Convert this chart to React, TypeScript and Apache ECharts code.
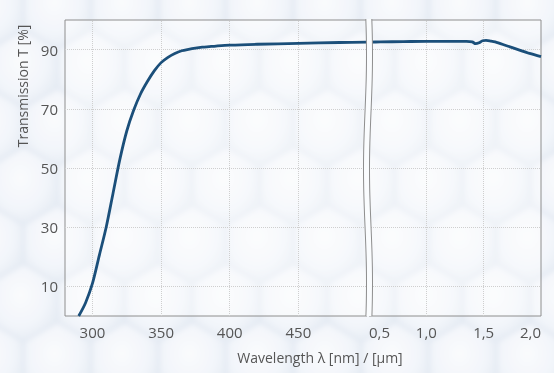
import React, { useEffect, useRef } from 'react';
import * as echarts from 'echarts';

// Left panel: wavelength in nm
const wlNm = [290, 295, 300, 305, 310, 315, 320, 325, 330, 335, 340, 345, 350, 355, 360, 365, 370, 375, 380, 385, 390, 400, 420, 450, 480, 500];
const tNm = [0, 4.5, 11, 20.5, 30, 41.5, 53, 62.5, 69.5, 75, 79.2, 82.8, 85.6, 87.4, 88.7, 89.6, 90.1, 90.5, 90.8, 91.0, 91.2, 91.5, 91.8, 92.1, 92.4, 92.5];
// Right panel: wavelength in µm
const wlUm = [0.5, 0.6, 0.8, 1.0, 1.2, 1.35, 1.4, 1.43, 1.46, 1.49, 1.52, 1.56, 1.6, 1.7, 1.8, 1.9, 2.0];
const tUm = [92.5, 92.6, 92.7, 92.8, 92.8, 92.8, 92.6, 92.0, 92.3, 93.0, 93.1, 92.9, 92.6, 91.3, 90.0, 88.7, 87.6];

const yGridValues = [10, 30, 50, 70, 90];
const xGridNm = [300, 350, 400, 450];
const xGridUm = [1.0, 1.5];

const yTitle = 'Transmission T [%]';
const xTitle = 'Wavelength λ [nm] / [µm]';

const W = 554;
const H = 373;

function honeycomb(): string {
  const R = 39;
  const w = Math.sqrt(3) * R;
  const dy = 1.5 * R;
  const r = 37.5;
  let polys = '';
  for (let row = -1; row * dy < H + R; row++) {
    const off = row % 2 === 0 ? 0 : w / 2;
    for (let col = -1; col * w < W + w; col++) {
      const cx = col * w + off - 10;
      const cy = row * dy + 10;
      const pts: string[] = [];
      for (let k = 0; k < 6; k++) {
        const a = Math.PI / 6 + (k * Math.PI) / 3;
        pts.push(`${(cx + r * Math.cos(a)).toFixed(1)},${(cy + r * Math.sin(a)).toFixed(1)}`);
      }
      polys += `<polygon points="${pts.join(' ')}" fill="url(#g)"/>`;
    }
  }
  const svg = `<svg xmlns="http://www.w3.org/2000/svg" width="${W}" height="${H}"><defs><filter id="b"><feGaussianBlur stdDeviation="2.5"/></filter><radialGradient id="g" cx="45%" cy="40%" r="60%"><stop offset="0%" stop-color="#fafbfd"/><stop offset="70%" stop-color="#f2f5fa"/><stop offset="100%" stop-color="#e8eef5"/></radialGradient></defs><rect width="${W}" height="${H}" fill="#e3e9f2"/><g filter="url(#b)">${polys}</g></svg>`;
  return `url("data:image/svg+xml;utf8,${encodeURIComponent(svg)}")`;
}

const TOP = 20;
const BOTTOM_Y = 316;
const LEFT_R = 367;
const RIGHT_L = 369;

function wave(y: number): number {
  return 1.5 * Math.sin(((y - TOP) / (BOTTOM_Y - TOP)) * Math.PI * 2 * 1.3 + 0.6);
}

export default function App() {
  const ref = useRef<HTMLDivElement>(null);

  useEffect(() => {
    if (!ref.current) return;
    const chart = echarts.init(ref.current, undefined, { renderer: 'svg' });

    const leftPts: number[][] = [];
    const rightPts: number[][] = [];
    for (let y = TOP - 1; y <= BOTTOM_Y + 1; y += 3) {
      leftPts.push([365 + wave(y), y]);
      rightPts.push([371 + wave(y), y]);
    }
    const polyPts = leftPts.concat(rightPts.slice().reverse());

    const gridLine = { type: 'dotted' as const, color: '#cfcfcf', width: 1 };
    const labelStyle = { color: '#555', fontSize: 15, fontFamily: 'Open Sans' };
    const lineColor = '#1b4f7a';

    chart.setOption({
      animation: false,
      backgroundColor: 'transparent',
      grid: [
        { left: 65, right: W - LEFT_R, top: TOP, bottom: H - BOTTOM_Y, show: true, borderColor: '#8e8e8e', borderWidth: 1, backgroundColor: 'rgba(255,255,255,0.35)' },
        { left: RIGHT_L, right: 13, top: TOP, bottom: H - BOTTOM_Y, show: true, borderColor: '#8e8e8e', borderWidth: 1, backgroundColor: 'rgba(255,255,255,0.35)' },
      ],
      xAxis: [
        {
          type: 'value', gridIndex: 0, min: 280, max: 500, interval: 10,
          axisLine: { show: false }, axisTick: { show: false }, splitLine: { show: false },
          axisLabel: { ...labelStyle, margin: 8, showMaxLabel: false, formatter: (v: number) => (v % 50 === 0 && v < 500 ? String(v) : '') },
        },
        {
          type: 'value', gridIndex: 1, min: 0.5, max: 2.0, interval: 0.5,
          axisLine: { show: false }, axisTick: { show: false }, splitLine: { show: false },
          axisLabel: { ...labelStyle, margin: 8, alignMinLabel: 'left', alignMaxLabel: 'right', formatter: (v: number) => v.toFixed(1).replace('.', ',') },
        },
      ],
      yAxis: [
        {
          type: 'value', gridIndex: 0, min: 0, max: 100, interval: 10,
          axisLine: { show: false }, axisTick: { show: false }, splitLine: { show: false },
          axisLabel: { ...labelStyle, margin: 7, formatter: (v: number) => ((v / 10) % 2 === 1 ? String(v) : '') },
        },
        {
          type: 'value', gridIndex: 1, min: 0, max: 100, interval: 10, show: false,
          splitLine: { show: false },
        },
      ],
      series: [
        {
          type: 'line', xAxisIndex: 0, yAxisIndex: 0, z: 3,
          data: wlNm.map((x, i) => [x, tNm[i]]),
          smooth: 0.3, showSymbol: false, symbol: 'none',
          lineStyle: { color: lineColor, width: 2.8 },
          markLine: {
            silent: true, symbol: ['none', 'none'], label: { show: false }, z: 1,
            lineStyle: gridLine,
            data: [...yGridValues.map((v) => ({ yAxis: v })), ...xGridNm.map((v) => ({ xAxis: v }))],
          },
        },
        {
          type: 'line', xAxisIndex: 1, yAxisIndex: 1, z: 3,
          data: wlUm.map((x, i) => [x, tUm[i]]),
          smooth: 0.3, showSymbol: false, symbol: 'none',
          lineStyle: { color: lineColor, width: 2.8 },
          markLine: {
            silent: true, symbol: ['none', 'none'], label: { show: false }, z: 1,
            lineStyle: gridLine,
            data: [...yGridValues.map((v) => ({ yAxis: v })), ...xGridUm.map((v) => ({ xAxis: v }))],
          },
        },
      ],
      graphic: {
        elements: [
          { type: 'polygon', z: 100, silent: true, shape: { points: polyPts }, style: { fill: '#fafcfe', stroke: 'none' } },
          { type: 'polyline', z: 101, silent: true, shape: { points: leftPts }, style: { stroke: '#8e8e8e', lineWidth: 1, fill: 'none' } },
          { type: 'polyline', z: 101, silent: true, shape: { points: rightPts }, style: { stroke: '#8e8e8e', lineWidth: 1, fill: 'none' } },
          {
            type: 'text', z: 100, x: 22, y: 86, rotation: Math.PI / 2,
            style: { text: yTitle, fill: '#555', fontSize: 14, fontFamily: 'Open Sans', align: 'center', verticalAlign: 'middle' },
          },
          {
            type: 'text', z: 100, x: 320, y: 357,
            style: { text: xTitle, fill: '#555', fontSize: 14, fontFamily: 'Open Sans', align: 'center', verticalAlign: 'middle' },
          },
        ],
      },
    });

    return () => chart.dispose();
  }, []);

  return (
    <div
      style={{ position: 'fixed', left: 0, top: 0, width: W, height: H, backgroundImage: honeycomb() }}
    >
      <div ref={ref} style={{ width: W, height: H }} />
    </div>
  );
}
